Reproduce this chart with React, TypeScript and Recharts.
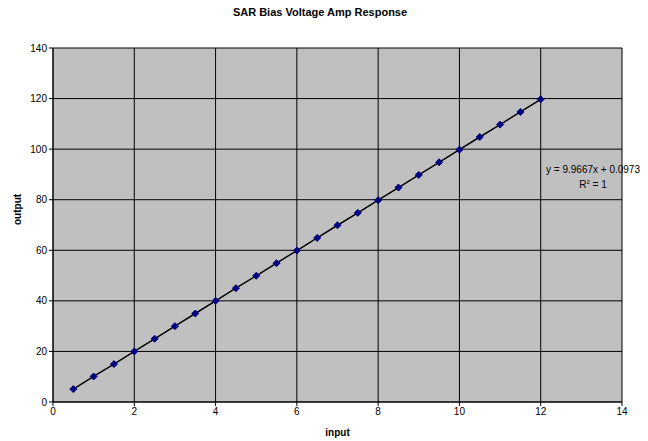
import { ComposedChart, Line, XAxis, YAxis, CartesianGrid } from 'recharts';

const inputs = [0.5, 1, 1.5, 2, 2.5, 3, 3.5, 4, 4.5, 5, 5.5, 6, 6.5, 7, 7.5, 8, 8.5, 9, 9.5, 10, 10.5, 11, 11.5, 12];
const outputs = [5.1, 10.1, 15.0, 20.0, 25.0, 30.0, 35.0, 40.0, 45.0, 49.9, 54.9, 59.9, 64.9, 69.9, 74.8, 79.8, 84.8, 89.8, 94.8, 99.8, 104.8, 109.7, 114.7, 119.7];
const xTicks = [0, 2, 4, 6, 8, 10, 12, 14];
const yTicks = [0, 20, 40, 60, 80, 100, 120, 140];

const data = inputs.map((x, i) => ({ input: x, output: outputs[i] }));

const font = 'Arial, "Liberation Sans", sans-serif';

const Diamond = (props: any) => {
  const { cx, cy } = props;
  if (cx == null || cy == null) return null;
  const r = 3.5;
  return (
    <path
      d={`M${cx},${cy - r} L${cx + r},${cy} L${cx},${cy + r} L${cx - r},${cy} Z`}
      fill="#000080"
      stroke="#000080"
    />
  );
};

const App = () => {
  return (
    <div style={{ position: 'absolute', left: 0, top: 0, width: 648, height: 441, background: '#fff', fontFamily: font }}>
      <div style={{ position: 'absolute', top: 6, left: 0, width: 640, textAlign: 'center', fontSize: 11, fontWeight: 'bold' }}>
        SAR Bias Voltage Amp Response
      </div>
      <ComposedChart width={648} height={441} data={data} margin={{ top: 48, right: 26, left: 13, bottom: 19 }}>
        <CartesianGrid stroke="#000" strokeWidth={1} fill="#C0C0C0" fillOpacity={1} />
        <XAxis
          type="number"
          dataKey="input"
          domain={[0, 14]}
          ticks={xTicks}
          interval={0}
          height={20}
          tick={{ fontSize: 10, fill: '#000', fontFamily: font }}
          tickSize={4}
          axisLine={{ stroke: '#000' }}
          tickLine={{ stroke: '#000' }}
          label={{ value: 'input', position: 'insideBottom', offset: -14, fontSize: 10, fontWeight: 'bold', fill: '#000', fontFamily: font }}
        />
        <YAxis
          type="number"
          domain={[0, 140]}
          ticks={yTicks}
          interval={0}
          width={40}
          tick={{ fontSize: 10, fill: '#000', fontFamily: font }}
          tickSize={4}
          axisLine={{ stroke: '#000' }}
          tickLine={{ stroke: '#000' }}
          label={{ value: 'output', angle: -90, position: 'insideLeft', offset: 4, fontSize: 10, fontWeight: 'bold', fill: '#000', fontFamily: font }}
        />
        <Line
          type="linear"
          dataKey="output"
          stroke="#000"
          strokeWidth={1.5}
          dot={<Diamond />}
          activeDot={false}
          isAnimationActive={false}
        />
      </ComposedChart>
      <div style={{ position: 'absolute', left: 538, top: 163, fontSize: 10, lineHeight: '13px', textAlign: 'center', width: 110 }}>
        y = 9.9667x + 0.0973
        <br />
        R<sup style={{ fontSize: 6 }}>2</sup> = 1
      </div>
    </div>
  );
};

export default App;
